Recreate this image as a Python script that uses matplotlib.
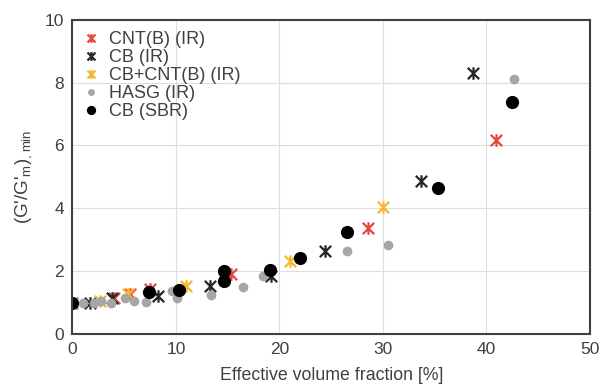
import matplotlib
matplotlib.use("Agg")
import matplotlib.pyplot as plt
from matplotlib.path import Path
import numpy as np

plt.rcParams['font.family'] = ['Liberation Sans', 'DejaVu Sans']
plt.rcParams['mathtext.default'] = 'regular'

# data
cnt_x = [0, 4.0, 5.6, 7.5, 15.3, 28.6, 40.9]
cnt_y = [1.0, 1.16, 1.27, 1.43, 1.9, 3.37, 6.17]

cb_ir_x = [0, 1.7, 3.8, 8.3, 13.3, 19.2, 24.4, 33.7, 38.7]
cb_ir_y = [1.0, 1.0, 1.16, 1.21, 1.53, 1.85, 2.65, 4.86, 8.3]

cbcnt_x = [0, 2.7, 5.4, 11.0, 21.0, 30.0]
cbcnt_y = [1.0, 1.05, 1.27, 1.53, 2.33, 4.03]

hasg_x = [0, 1.0, 2.1, 2.8, 3.7, 5.1, 5.9, 7.1, 9.6, 10.1, 13.4, 16.5, 18.4, 26.5, 30.5, 42.7]
hasg_y = [1.0, 0.98, 1.0, 1.05, 0.98, 1.16, 1.05, 1.02, 1.37, 1.13, 1.23, 1.51, 1.85, 2.63, 2.83, 8.1]

sbr_x = [0, 7.4, 10.3, 14.6, 14.6, 19.1, 22.0, 26.5, 35.3, 42.5]
sbr_y = [1.0, 1.34, 1.39, 1.69, 1.99, 2.03, 2.42, 3.24, 4.64, 7.39]

# x with a vertical stroke (Excel-like star marker)
star = Path([(-1, -1), (1, 1), (-1, 1), (1, -1), (0, -1.1), (0, 1.1)],
            [Path.MOVETO, Path.LINETO, Path.MOVETO, Path.LINETO, Path.MOVETO, Path.LINETO])

fig = plt.figure(figsize=(6.02, 3.90), dpi=100)
ax = fig.add_axes([0.1204, 0.1436, 0.8596, 0.806])

ax.plot(cnt_x, cnt_y, ls='none', marker=star, ms=9, mew=1.6, mec='#E8463C', label='CNT(B) (IR)')
ax.plot(cb_ir_x, cb_ir_y, ls='none', marker=star, ms=9, mew=1.6, mec='#262626', label='CB (IR)')
ax.plot(cbcnt_x, cbcnt_y, ls='none', marker=star, ms=9, mew=1.6, mec='#F5B82E', label='CB+CNT(B) (IR)')
ax.plot(hasg_x, hasg_y, ls='none', marker='o', ms=7, mew=0, color='#A6A6A6', label='HASG (IR)')
ax.plot(sbr_x, sbr_y, ls='none', marker='o', ms=9.5, mew=0, color='black', label='CB (SBR)')

ax.set_xlim(0, 50)
ax.set_ylim(0, 10)
ax.set_xticks(np.arange(0, 51, 10))
ax.set_yticks(np.arange(0, 11, 2))
ax.grid(True, color='#DDDDDD', lw=0.8)
ax.set_axisbelow(True)
for s in ax.spines.values():
    s.set_color('#404040')
    s.set_linewidth(1.5)
ax.tick_params(length=0, labelsize=12.5, labelcolor='#404040', pad=6)

ax.set_xlabel('Effective volume fraction [%]', fontsize=12.8, color='#404040', labelpad=7)
ax.set_ylabel("(G'/G'$_{m}$)$_{,min}$", fontsize=13.5, color='#404040', labelpad=8)

leg = ax.legend(loc='upper left', frameon=False, fontsize=13, handletextpad=0.6,
                labelspacing=0.05, borderaxespad=0.25, handlelength=0.8,
                markerscale=0.7, labelcolor='#404040')

fig.savefig('out.png', dpi=100)
